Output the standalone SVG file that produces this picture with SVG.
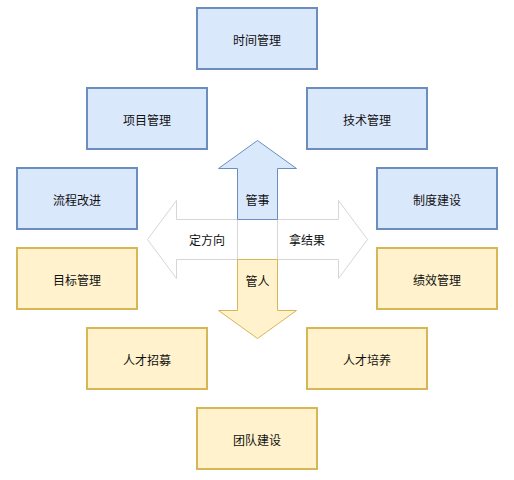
<svg xmlns="http://www.w3.org/2000/svg" width="514" height="480" viewBox="0 0 514 480">
<style>
.b rect{fill:#dae8fc;stroke:#6c8ebf;stroke-width:2}
.y rect{fill:#fff2cc;stroke:#d6b656;stroke-width:2}
text{font-family:"Noto Sans CJK SC","Noto Sans",sans-serif;font-size:12px;fill:#111111;text-anchor:middle;dominant-baseline:central}
.ab{fill:#dae8fc;stroke:#6c8ebf;stroke-width:1}
.ay{fill:#fff2cc;stroke:#d6b656;stroke-width:1}
.ag{fill:#ffffff;stroke:#d6d6d6;stroke-width:1}
</style>
<rect width="514" height="480" fill="#ffffff"/>
<g id="n1" class="b"><rect x="197" y="8" width="120" height="61"/><text x="257" y="39">时间管理</text></g>
<g id="n2" class="b"><rect x="87" y="88" width="120" height="61"/><text x="147" y="119">项目管理</text></g>
<g id="n3" class="b"><rect x="307" y="88" width="120" height="61"/><text x="367" y="119">技术管理</text></g>
<g id="n4" class="b"><rect x="17" y="168" width="120" height="61"/><text x="77" y="199">流程改进</text></g>
<g id="n5" class="b"><rect x="377" y="168" width="120" height="61"/><text x="437" y="199">制度建设</text></g>
<g id="n6" class="y"><rect x="17" y="248" width="120" height="61"/><text x="77" y="279">目标管理</text></g>
<g id="n7" class="y"><rect x="377" y="248" width="120" height="61"/><text x="437" y="279">绩效管理</text></g>
<g id="n8" class="y"><rect x="87" y="328" width="120" height="61"/><text x="147" y="359">人才招募</text></g>
<g id="n9" class="y"><rect x="307" y="328" width="120" height="61"/><text x="367" y="359">人才培养</text></g>
<g id="n10" class="y"><rect x="197" y="408" width="120" height="61"/><text x="257" y="439">团队建设</text></g>
<g id="arrows">
<g id="a-left"><polygon class="ag" points="237.5,219.5 176.5,219.5 176.5,200.5 147.5,239.5 176.5,278.5 176.5,259.5 237.5,259.5"/><text x="207" y="239.5">定方向</text></g>
<g id="a-right"><polygon class="ag" points="277.5,219.5 338.5,219.5 338.5,200.5 367.5,239.5 338.5,278.5 338.5,259.5 277.5,259.5"/><text x="307" y="239.5">拿结果</text></g>
<g id="a-up"><polygon class="ab" points="237.5,219.5 237.5,168.5 218.5,168.5 257.5,140.5 296.5,168.5 277.5,168.5 277.5,219.5"/><text x="257.5" y="199">管事</text></g>
<g id="a-down"><polygon class="ay" points="237.5,259.5 237.5,310.5 218.5,310.5 257.5,338.5 296.5,310.5 277.5,310.5 277.5,259.5"/><text x="257.5" y="280">管人</text></g>
</g>
</svg>
